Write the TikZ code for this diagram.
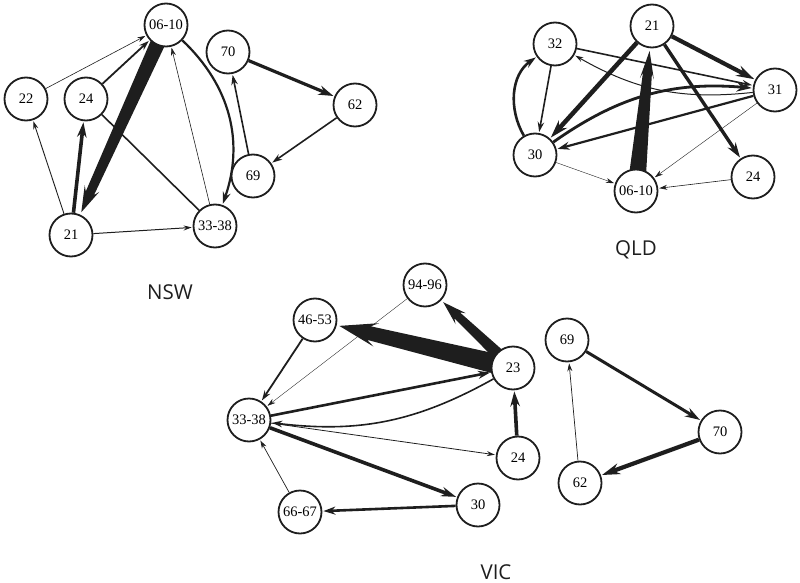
\documentclass[tikz,border=0pt]{standalone}
\usepackage{fontspec}
\setmainfont{Liberation Serif}
\newfontfamily\labfont{Open Sans}
\usetikzlibrary{arrows.meta,calc}
\pgfdeclarelayer{bg}
\pgfsetlayers{bg,main}
\definecolor{ink}{HTML}{1E1E1E}
\tikzset{
 st/.style={circle, draw=ink, fill=white, line width=1.8pt, minimum size=43pt, inner sep=0pt, font=\fontsize{14.5}{14.5}\selectfont},
 e0/.style={draw=ink, line width=0.6pt, shorten >=1pt, -{Stealth[length=8pt,width=5pt]}},
 e1/.style={draw=ink, line width=1.4pt, shorten >=1pt, -{Stealth[length=10pt,width=6.5pt]}},
 e2/.style={draw=ink, line width=2.2pt, shorten >=1pt, -{Stealth[length=12pt,width=8pt]}},
 e3/.style={draw=ink, line width=3.2pt, shorten >=1pt, -{Stealth[length=15pt,width=9.5pt]}},
 e4/.style={draw=ink, line width=4.2pt, shorten >=1pt, -{Stealth[length=18pt,width=11pt]}},
 plain/.style={draw=ink, line width=1.6pt},
 region/.style={font=\labfont\fontsize{20.5}{20.5}\selectfont, text=ink, anchor=base},
}
% tapered thick edge: from, to, start half width, shaft end half width, head half width, head length
\newcommand\taperedge[6]{%
 \path ($(#1)!15pt!(#2)$) coordinate (tS) ($(#2)!25pt!(#1)$) coordinate (tT);
 \path ($(tT)!#6!(tS)$) coordinate (tW);
 \path ($(tT)!0.8!(tW)$) coordinate (tE);
 \fill[ink] ($(tS)!#3!90:(tT)$) -- ($(tE)!#4!-90:(tS)$) -- ($(tW)!#5!-90:(tS)$) -- (tT)
   -- ($(tW)!#5!90:(tS)$) -- ($(tE)!#4!90:(tS)$) -- ($(tS)!#3!-90:(tT)$) -- cycle;
}
\begin{document}
\begin{tikzpicture}[x=1pt,y=-1pt]
\useasboundingbox (0,0) rectangle (800,583);
% ---------- NSW ----------
\node[st] (n0610) at (166,25) {06-10};
\node[st] (n70) at (228,52) {70};
\node[st] (n62) at (355,105) {62};
\node[st] (n22) at (26,99) {22};
\node[st] (n24) at (86,99) {24};
\node[st] (n69) at (253,176) {69};
\node[st] (n21) at (71,235) {21};
\node[st] (n3338) at (215,226) {33-38};
% ---------- QLD ----------
\node[st] (q21) at (652,26) {21};
\node[st] (q32) at (555,44) {32};
\node[st] (q31) at (775,90) {31};
\node[st] (q30) at (535,155) {30};
\node[st] (q24) at (753,177) {24};
\node[st] (q0610) at (636,191) {06-10};
% ---------- VIC ----------
\node[st] (v9496) at (425,285) {94-96};
\node[st] (v4653) at (315,320) {46-53};
\node[st] (v23) at (513,368) {23};
\node[st] (v3338) at (249,420) {33-38};
\node[st] (v24) at (518,458) {24};
\node[st] (v30) at (478,505) {30};
\node[st] (v6667) at (300,512) {66-67};
\node[st] (v69) at (567,340) {69};
\node[st] (v70) at (720,432) {70};
\node[st] (v62) at (580,483) {62};
% ---------- labels ----------
\node[region] (lnsw) at (170,299) {NSW};
\node[region] (lqld) at (636,255) {QLD};
\node[region] (lvic) at (496,579.5) {VIC};

\begin{pgfonlayer}{bg}
% NSW edges
\draw[e0] (n22) -- (n0610);
\draw[e1, line width=1.8pt] (n24) -- (n0610);
\taperedge{n0610}{n21}{7.5pt}{4.5pt}{8pt}{26pt}
\draw[e2] (n0610) to[bend left=33] (n3338);
\draw[e0] (n3338) -- (n0610);
\draw[e0, line width=0.9pt] (n21) -- (n22);
\draw[e3, line width=3.6pt] (n21) -- (n24);
\draw[plain] (n24) -- (n3338);
\draw[e0, line width=1pt] (n21) -- (n3338);
\draw[e1, line width=1.6pt] (n69) -- (n70);
\draw[e3] (n70) -- (n62);
\draw[e1, line width=1.6pt] (n62) -- (n69);
% QLD edges
\draw[e4] (q21) -- (q31);
\draw[e4, line width=4.5pt] (q21) -- (q30);
\draw[e3, line width=3.4pt] (q21) -- (q24);
\taperedge{q0610}{q21}{8.5pt}{4.5pt}{7pt}{28pt}
\draw[e1, line width=1.6pt] (q32) -- (q31);
\draw[e0, line width=1pt] (q31) to[bend left=18] (q32);
\draw[e3, line width=2.8pt] (q30) to[bend left=20] (q31);
\draw[e2, line width=2.2pt] (q31) -- (q30);
\draw[e2, line width=2.6pt] (q30) to[out=120, in=215] (q32);
\draw[e1, line width=1.6pt] (q32) -- (q30);
\draw[e0, line width=0.4pt] (q30) -- (q0610);
\draw[e0, line width=0.4pt] (q31) -- (q0610);
\draw[e0, line width=0.6pt] (q24) -- (q0610);
% VIC edges
\taperedge{v23}{v4653}{10pt}{7pt}{12pt}{38pt}
\taperedge{v23}{v9496}{6pt}{4pt}{7.5pt}{24pt}
\draw[e0, line width=0.35pt] (v9496) -- (v3338);
\draw[e1, line width=1.8pt] (v4653) -- (v3338);
\draw[e2, line width=2.6pt] (v3338) -- (v23);
\draw[e1, line width=1.6pt] (v23) to[bend left=18] (v3338);
\draw[e0, line width=0.8pt] (v3338) -- (v24);
\draw[e3, line width=3.6pt] (v24) -- (v23);
\draw[e3, line width=3.6pt] (v3338) -- (v30);
\draw[e2, line width=2.6pt] (v30) -- (v6667);
\draw[e0, line width=0.7pt] (v6667) -- (v3338);
\draw[e3, line width=3pt] (v69) -- (v70);
\draw[e4] (v70) -- (v62);
\draw[e0, line width=0.7pt] (v62) -- (v69);
\end{pgfonlayer}
\end{tikzpicture}
\end{document}
